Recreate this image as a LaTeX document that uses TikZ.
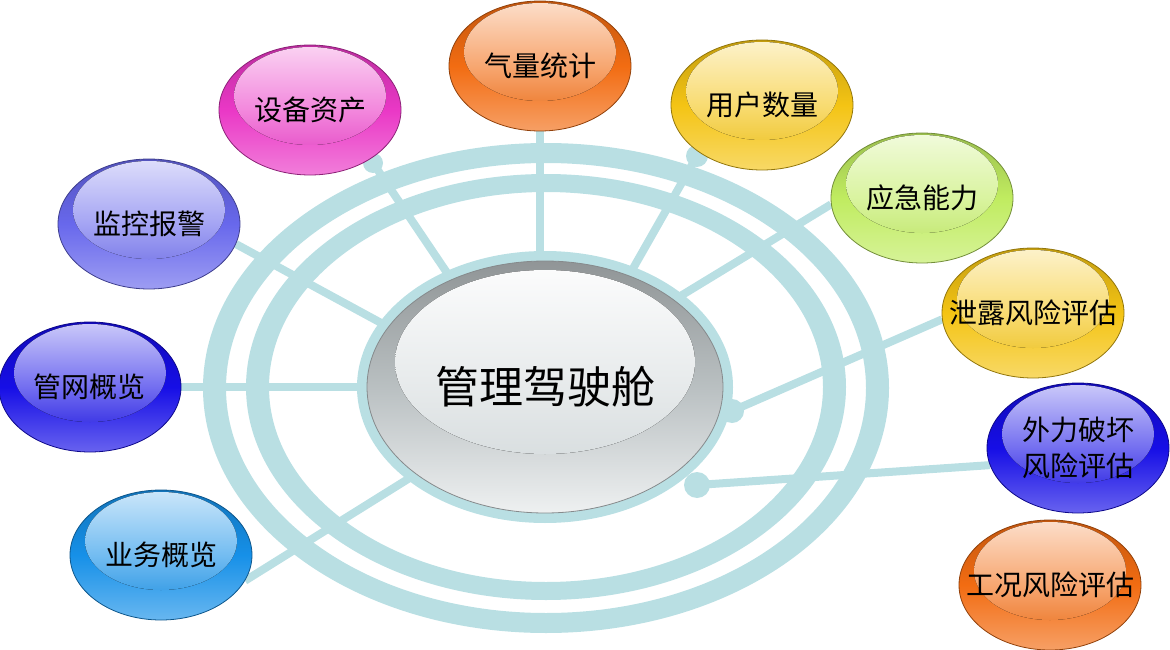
\documentclass[tikz,border=0pt]{standalone}
\usepackage{fontspec}
\newfontfamily\cjk{Noto Sans CJK SC}
\usepackage{tikz}
\usetikzlibrary{shapes}
\usetikzlibrary{backgrounds}
\definecolor{ringblue}{RGB}{185,223,227}
\definecolor{cmag}{RGB}{234,56,198}
\definecolor{corange}{RGB}{242,108,18}
\definecolor{cyellow}{RGB}{244,196,20}
\definecolor{cgreen}{RGB}{192,236,96}
\definecolor{cviolet}{RGB}{104,104,236}
\definecolor{cnavy}{RGB}{22,14,230}
\definecolor{csky}{RGB}{22,144,232}
\definecolor{cgrey}{RGB}{206,213,215}
\tikzset{
	ringfill/.style={fill=ringblue},
	spokeline/.style={draw=ringblue, line width=8pt},
	ballnode/.style={ellipse, minimum width=182pt, minimum height=130pt, inner ysep=0pt, inner xsep=-24pt, align=center,
		draw=#1!60!black, line width=0.8pt,
		top color=#1!80!black, bottom color=#1!65!white, middle color=#1,
		font=\cjk\fontsize{28}{36}\selectfont,
		path picture={
			\fill[top color=#1!22!white, bottom color=#1!96!black, middle color=#1!60!white]
				([yshift=14pt]path picture bounding box.center) ellipse [x radius=76pt, y radius=49pt];
		}},
	hubnode/.style={ellipse, minimum width=356pt, minimum height=252pt, inner sep=0pt,
		draw=cgrey!65!black, line width=0.8pt,
		top color=cgrey!70!black, bottom color=cgrey!35!white, middle color=cgrey!90!black,
		font=\cjk\fontsize{44}{50}\selectfont,
		path picture={
			\fill[top color=cgrey!5!white, bottom color=cgrey, middle color=cgrey!50!white]
				([yshift=25pt]path picture bounding box.center) ellipse [x radius=150pt, y radius=92pt];
		}}
}
\begin{document}
\begin{tikzpicture}[x=1pt,y=-1pt]
					\useasboundingbox (0,0) rectangle (1170,650);
					\fill[ringfill, even odd rule] (546,388) ellipse [x radius=343pt, y radius=245pt]
						(546,388) ellipse [x radius=320pt, y radius=225pt];
					\fill[ringfill, even odd rule] (546,387) ellipse [x radius=300pt, y radius=213pt]
						(546,387) ellipse [x radius=277pt, y radius=195pt];
					\fill[ringfill] (545,387) ellipse [x radius=188pt, y radius=136pt];

					\coordinate (sbdot) at (373,163);
					\coordinate (yhdot) at (697,156);
					\coordinate (xldot) at (732,411);
					\coordinate (wldot) at (697,485);

					\node[ballnode=cmag] (sb) at (310,110) {设备资产};
					\node[ballnode=corange] (ql) at (540,66) {气量统计};
					\node[ballnode=cyellow] (yh) at (762,105) {用户数量};
					\node[ballnode=cgreen] (yj) at (922,198) {应急能力};
					\node[ballnode=cyellow] (xl) at (1033,313) {泄露风险评估};
					\node[ballnode=cnavy] (wl) at (1078,448) {外力破坏\\风险评估};
					\node[ballnode=corange] (gk) at (1050,585) {工况风险评估};
					\node[ballnode=cviolet] (jk) at (149,224) {监控报警};
					\node[ballnode=cnavy] (gw) at (90,387) {管网概览};
					\node[ballnode=csky] (yw) at (161,555) {业务概览};
					\node[hubnode] (hub) at (545,387) {管理驾驶舱};

					\begin{scope}[on background layer]
						\draw[spokeline] (ql.south) -- (ql.south |- hub.north);
						\draw[spokeline] (sbdot) -- (hub.131);
						\draw[spokeline] (jk.-13) -- (hub.159);
						\draw[spokeline] (gw.east) -- (hub.west);
						\draw[spokeline] (yw.-17) -- (hub.214);
						\draw[spokeline] (yhdot) -- (hub.53);
						\draw[spokeline] (yj.184) -- (hub.34);
						\draw[spokeline] (xl.184) -- (xldot);
						\draw[spokeline] (wl.191) -- (wldot);
						\fill[ringfill] (sbdot) circle (10pt);
						\fill[ringfill] (yhdot) circle (11pt);
						\fill[ringfill] (xldot) circle (12pt);
						\fill[ringfill] (wldot) circle (13pt);
					\end{scope}
\end{tikzpicture}
\end{document}
